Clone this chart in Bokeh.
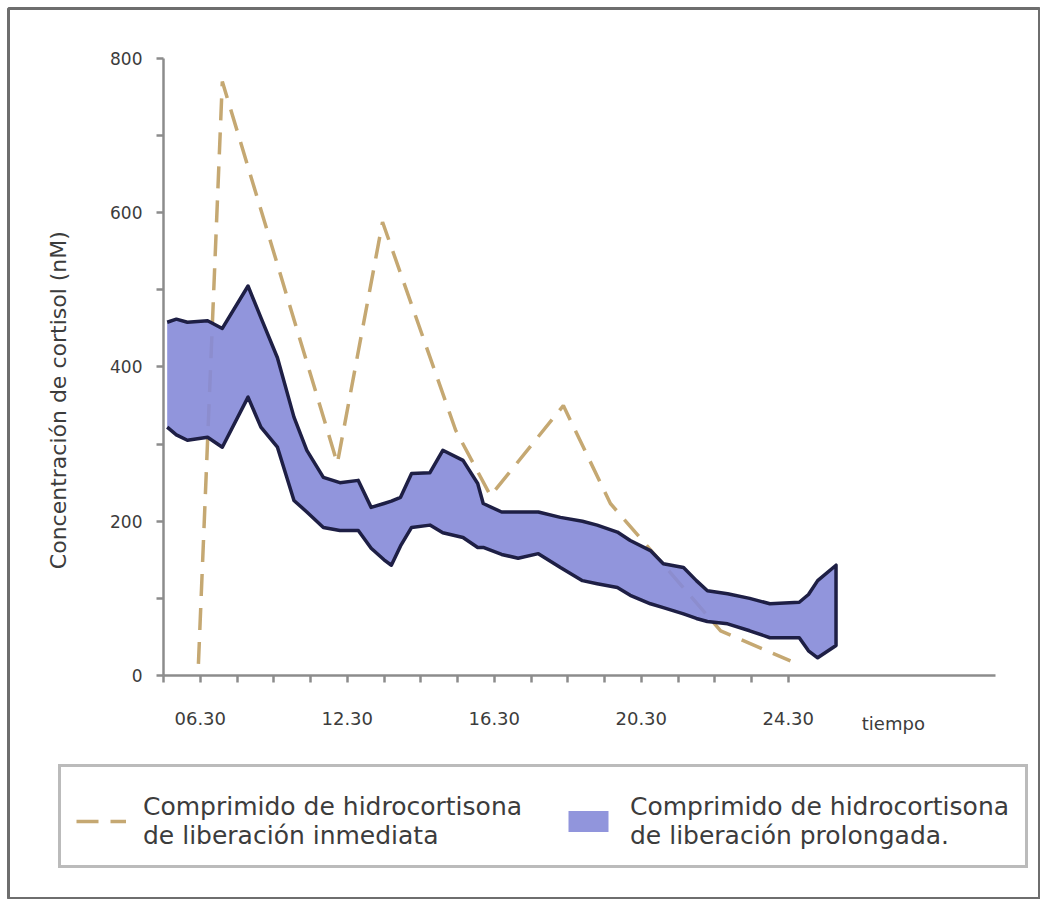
import math
from bokeh.plotting import figure
from bokeh.models import Range1d, FixedTicker, Label, Legend, LegendItem
from bokeh.embed import file_html
from bokeh.resources import INLINE

# ---- data (x in axis tick units: tick 1 = "06.30", 5 = "12.30", ...) ----
tick_positions = list(range(0, 18))
tick_labels = {1: "06.30", 5: "12.30", 9: "16.30", 13: "20.30", 17: "24.30"}
y_ticks = [0, 100, 200, 300, 400, 500, 600, 700, 800]
y_tick_labels = {0: "0", 200: "200", 400: "400", 600: "600", 800: "800"}

# immediate-release tablet (dashed)
tiempo_inmediata = [0.95, 1.6, 4.73, 5.96, 7.95, 8.9, 10.88, 12.16, 15.16, 17.06]
conc_inmediata = [15, 770, 275, 588, 318, 233, 350, 223, 58, 19]

# prolonged-release tablet (band)
tiempo_banda = [0.1, 0.35, 0.65, 1.2, 1.6, 2.3, 2.65, 3.1, 3.55, 3.9,
                4.35, 4.8, 5.3, 5.65, 6.0, 6.2, 6.45, 6.75, 7.25, 7.6,
                8.15, 8.55, 8.7, 9.2, 9.65, 10.2, 10.8, 11.4, 11.8, 12.35,
                12.7, 13.25, 13.6, 14.15, 14.5, 14.8, 15.35, 15.95, 16.5, 17.3,
                17.55, 17.8, 18.3]
banda_sup = [458, 462, 458, 460, 450, 505, 464, 412, 335, 292,
             257, 250, 253, 218, 223, 226, 231, 262, 263, 292,
             279, 249, 223, 212, 212, 212, 205, 200, 195, 186,
             175, 162, 145, 140, 123, 110, 106, 100, 93, 95,
             105, 123, 143]
banda_inf = [322, 312, 305, 309, 296, 361, 322, 296, 227, 212,
             192, 188, 188, 165, 150, 143, 168, 192, 195, 185,
             179, 166, 166, 157, 152, 158, 140, 123, 119, 114,
             104, 93, 88, 80, 74, 70, 67, 58, 49, 49,
             32, 23, 39]

label_inmediata = "Comprimido de hidrocortisona\nde liberación inmediata"
label_prolongada = "Comprimido de hidrocortisona\nde liberación prolongada."
y_title = "Concentración de cortisol (nM)"
x_title = "tiempo"

FONT = "DejaVu Sans"
TXT = "#3c3c3c"
AX = "#8c8c8c"

X_AXIS_END = 22.64
Y_AXIS_END = 800

p = figure(width=1040, height=899, output_backend="svg", toolbar_location=None,
           x_range=Range1d(-4.218, 23.864), y_range=Range1d(-290.4, 864.8),
           min_border_left=8, min_border_top=8,
           min_border_right=0, min_border_bottom=0)
p.outline_line_color = "#6e6e6e"
p.outline_line_width = 3
p.xgrid.visible = False
p.ygrid.visible = False
p.background_fill_color = "white"
p.border_fill_color = "white"

# dashed immediate release line
dash_r = p.line(tiempo_inmediata, conc_inmediata, line_color="#c5a872",
                line_width=3.5, line_dash="22 12")

# band
band_r = p.varea(x=tiempo_banda, y1=banda_inf, y2=banda_sup,
                 fill_color="#8589d8", fill_alpha=0.9)
outline_x = tiempo_banda + tiempo_banda[::-1]
outline_y = banda_sup + banda_inf[::-1]
p.line(outline_x, outline_y, line_color="#1e1f45", line_width=3.5,
       line_join="round")

# axes drawn at the origin inside the (full-canvas) frame
for ax in (p.xaxis[0], p.yaxis[0]):
    ax.fixed_location = 0
    ax.axis_line_color = AX
    ax.axis_line_width = 2.5
    ax.major_tick_line_color = AX
    ax.major_tick_line_width = 2.5
    ax.major_tick_in = 0
    ax.major_tick_out = 7
    ax.minor_tick_line_color = None
    ax.major_label_text_font = FONT
    ax.major_label_text_color = TXT

p.xaxis.bounds = (0, X_AXIS_END)
p.xaxis.ticker = FixedTicker(ticks=tick_positions)
p.xaxis.major_label_overrides = {t: tick_labels.get(t, "") for t in tick_positions}
p.xaxis.major_label_text_font_size = "18px"
p.xaxis.major_label_standoff = 29

p.yaxis.bounds = (0, Y_AXIS_END)
p.yaxis.ticker = FixedTicker(ticks=y_ticks)
p.yaxis.major_label_overrides = {t: y_tick_labels.get(t, "") for t in y_ticks}
p.yaxis.major_label_text_font_size = "17px"
p.yaxis.major_label_standoff = 14

p.add_layout(Label(x=-2.86, y=357, text=y_title, angle=math.pi / 2,
                   text_align="center", text_baseline="middle",
                   text_font=FONT, text_font_size="22px", text_color=TXT))
p.add_layout(Label(x=19.86, y=0, y_offset=-48, text=x_title,
                   text_align="center", text_baseline="middle",
                   text_font=FONT, text_font_size="18px", text_color=TXT))

legend = Legend(items=[LegendItem(label=label_inmediata, renderers=[dash_r]),
                       LegendItem(label=label_prolongada, renderers=[band_r])],
                orientation="horizontal", location=(50, 31),
                title=" ", title_text_font_size="9px", title_standoff=0,
                border_line_color="#777777", border_line_width=3,
                background_fill_color="white", background_fill_alpha=1,
                padding=15, spacing=40, margin=0,
                glyph_width=50, glyph_height=26, label_standoff=17,
                label_width=380,
                label_text_font=FONT, label_text_font_size="25px",
                label_text_color=TXT)
p.add_layout(legend, "center")

open("out.html", "w").write(file_html(p, INLINE))
